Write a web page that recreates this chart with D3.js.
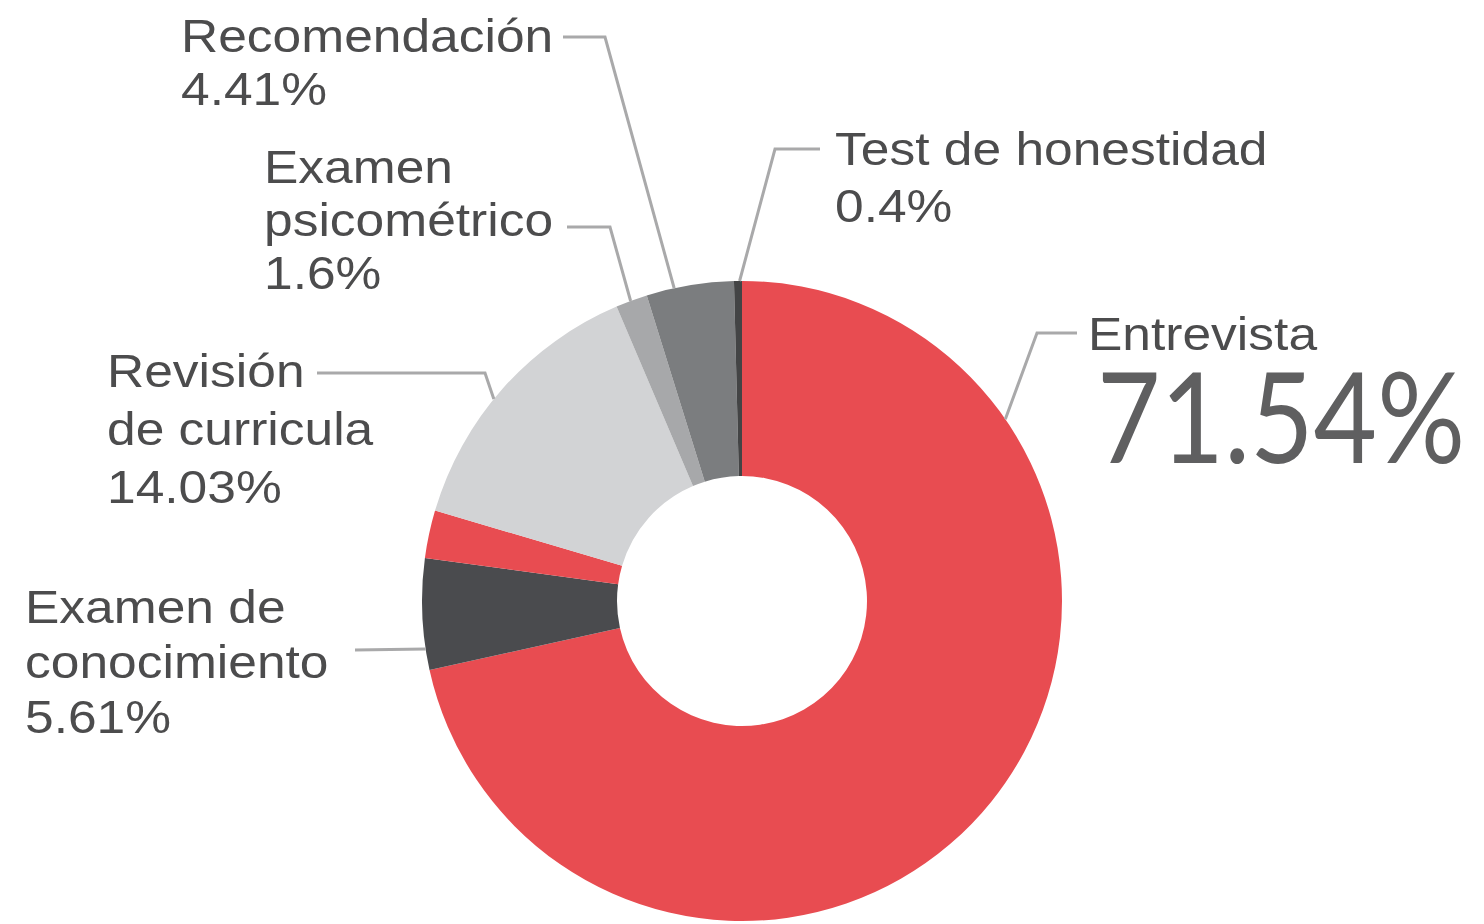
<!DOCTYPE html>
<html>
<head>
<meta charset="utf-8">
<script src="https://cdn.jsdelivr.net/npm/d3@7"></script>
<style>
  body { margin: 0; background: #fff; }
  svg { display: block; }
</style>
</head>
<body>
<svg></svg>
<script>
// data
const categories = ['Entrevista', 'Examen de conocimiento', '', 'Revisión de curricula', 'Examen psicométrico', 'Recomendación', 'Test de honestidad'];
const values = [71.54, 5.61, 2.41, 14.03, 1.6, 4.41, 0.4];
const labelLines = [['Entrevista'], ['Examen de', 'conocimiento'], [], ['Revisión', 'de curricula'], ['Examen', 'psicométrico'], ['Recomendación'], ['Test de honestidad']];
const percentLabels = ['71.54%', '5.61%', '', '14.03%', '1.6%', '4.41%', '0.4%'];

const colors = ['#e84c51', '#4a4b4e', '#e84c51', '#d2d3d5', '#a7a8aa', '#7b7d7f', '#434445'];

const width = 1484;
const height = 924;
const cx = 742, cy = 601;
const outerR = 320, innerR = 125;

// label placement: text origin, line gap, where the leader meets the slice (t along the slice), leader points
const labelLayout = {
	'Entrevista': { x: 1088, y: 350, gap: 0, t: 0.215, line: [[1077, 333], [1037, 333]] },
	'Examen de conocimiento': { x: 25, y: 623, gap: 55, t: 0.19, line: [[355, 650]] },
	'Revisión de curricula': { x: 107, y: 387, gap: 58, t: 0.45, line: [[317, 373], [485, 373]] },
	'Examen psicométrico': { x: 264, y: 183, gap: 53, t: 0.47, line: [[567, 227], [610, 227]] },
	'Recomendación': { x: 181, y: 52, gap: 53, t: 0.32, line: [[563, 37], [605, 37]] },
	'Test de honestidad': { x: 835, y: 165, gap: 57, t: 0.7, line: [[820, 149], [775, 149]] }
};

const svg = d3.select('svg')
	.attr('width', width)
	.attr('height', height);

const pie = d3.pie()
	.sort(null)
	.value(d => d);

const arcs = pie(values);

const arc = d3.arc()
	.innerRadius(innerR)
	.outerRadius(outerR);

const g = svg.append('g')
	.attr('transform', `translate(${cx}, ${cy})`);

g.selectAll('path')
	.data(arcs)
	.enter()
	.append('path')
	.attr('d', arc)
	.attr('fill', (d, i) => colors[i]);

// leader lines
const lineGen = d3.line();
arcs.forEach((d, i) => {
	const lay = labelLayout[categories[i]];
	if (!lay) return;
	const a = d.startAngle + (d.endAngle - d.startAngle) * lay.t;
	const end = [cx + outerR * Math.sin(a), cy - outerR * Math.cos(a)];
	svg.append('path')
		.attr('d', lineGen([...lay.line, end]))
		.attr('fill', 'none')
		.attr('stroke', '#a9a9aa')
		.attr('stroke-width', 3);
});

// labels
arcs.forEach((d, i) => {
	const lay = labelLayout[categories[i]];
	if (!lay) return;
	const lg = svg.append('g')
		.attr('transform', `translate(${lay.x}, ${lay.y}) scale(1.12, 1)`);
	const lines = categories[i] === 'Entrevista' ? labelLines[i] : [...labelLines[i], percentLabels[i]];
	lines.forEach((t, k) => {
		lg.append('text')
			.attr('x', 0)
			.attr('y', k * lay.gap)
			.style('font-family', '"Liberation Sans", Arial, sans-serif')
			.style('font-size', '46px')
			.style('fill', '#4c4c4d')
			.text(t);
	});
});

// big figure for the main slice
svg.append('g')
	.attr('transform', 'translate(1097, 463) scale(1, 1.14)')
	.append('text')
	.attr('x', 0)
	.attr('y', 0)
	.attr('textLength', 368)
	.attr('lengthAdjust', 'spacingAndGlyphs')
	.style('font-family', 'Lato, "Open Sans", sans-serif')
	.style('font-weight', 400)
	.style('font-size', '110px')
	.style('fill', '#5f5f60')
	.text(percentLabels[0]);
</script>
</body>
</html>
